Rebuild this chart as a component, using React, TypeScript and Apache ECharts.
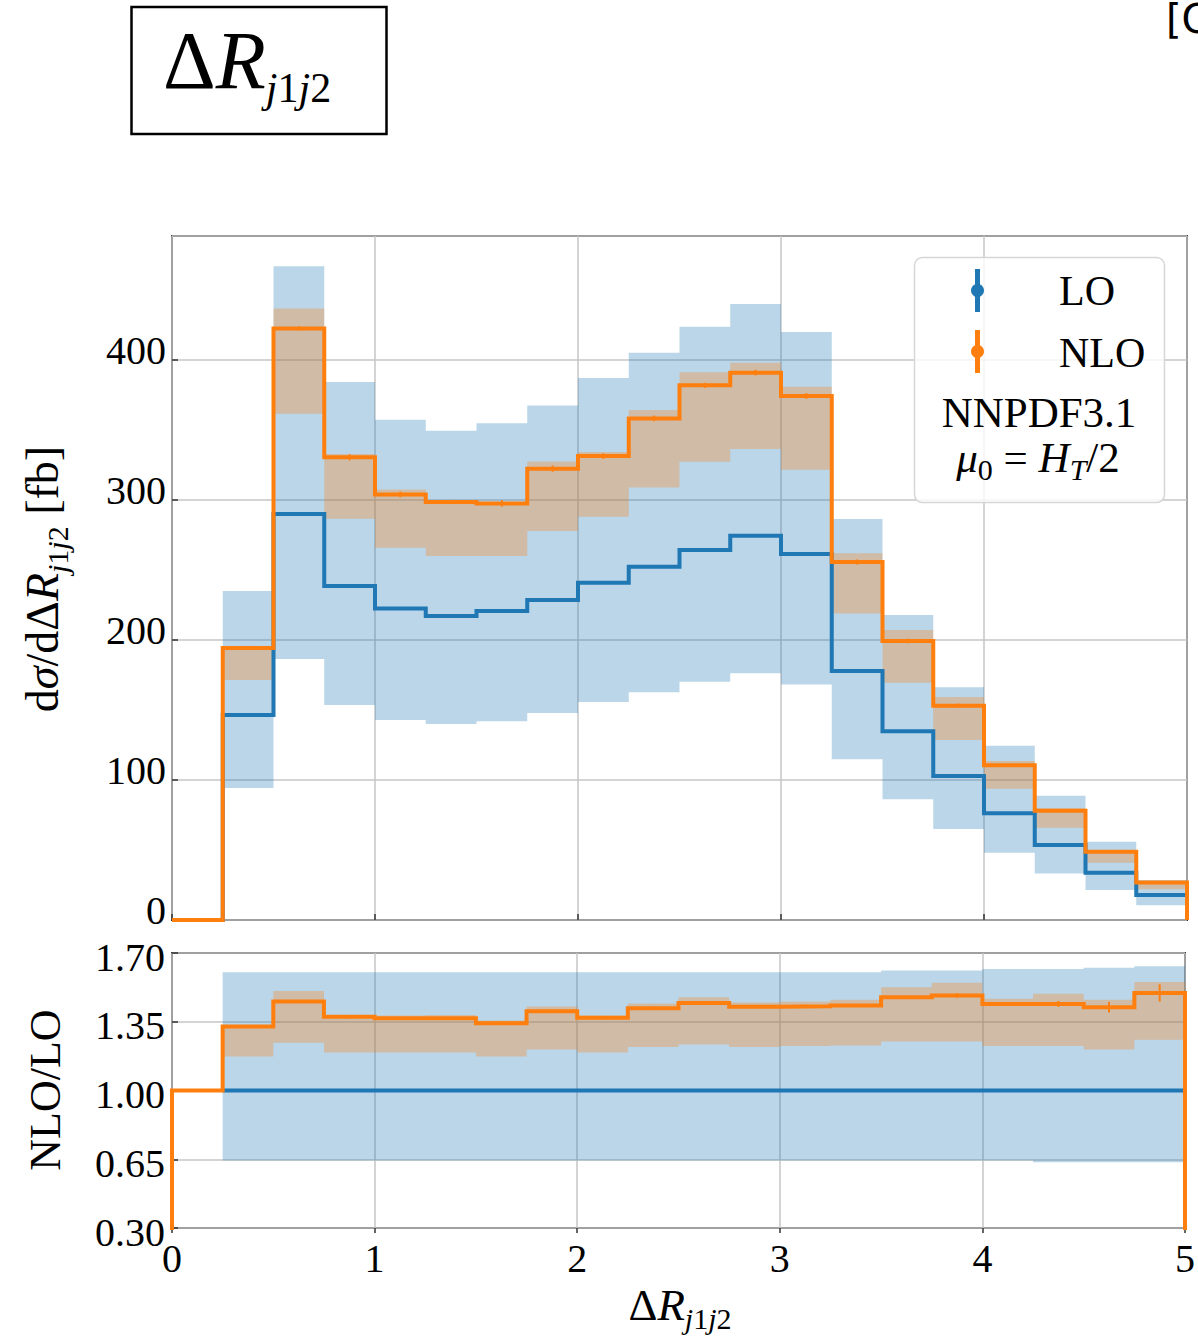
import React, { useEffect, useRef } from 'react';
import * as echarts from 'echarts';

// ---------- data ----------
const binEdges = [0, 0.25, 0.5, 0.75, 1, 1.25, 1.5, 1.75, 2, 2.25, 2.5, 2.75, 3, 3.25, 3.5, 3.75, 4, 4.25, 4.5, 4.75, 5];

const loCentral = [0, 146.4, 290.0, 238.6, 222.6, 217.1, 220.7, 228.6, 240.9, 252.4, 264.3, 274.5, 261.4, 177.9, 134.8, 102.9, 76.2, 53.6, 33.8, 17.9];
const loLow = [null, 94.3, 186.4, 153.6, 142.9, 140.0, 142.0, 147.9, 155.7, 162.6, 170.2, 176.2, 168.3, 114.8, 86.2, 65.0, 48.1, 33.3, 21.4, 10.5];
const loHigh = [null, 235.0, 467.0, 384.3, 357.4, 349.5, 354.8, 367.6, 387.1, 405.2, 423.8, 440.0, 420.0, 286.5, 217.9, 166.2, 124.5, 88.8, 55.9, 28.6];

const nloCentral = [0, 194.3, 422.6, 330.5, 304.0, 298.6, 297.6, 322.4, 331.4, 358.3, 381.9, 391.0, 374.3, 255.7, 199.3, 153.1, 110.5, 78.1, 48.8, 26.7];
const nloLow = [null, 171.4, 361.6, 286.7, 265.9, 260.0, 260.0, 277.9, 288.1, 309.0, 327.4, 336.4, 321.7, 219.0, 169.5, 128.6, 93.8, 65.9, 40.9, 21.9];
const nloHigh = [null, 195.5, 436.9, 332.9, 307.6, 299.3, 298.5, 327.6, 334.3, 364.3, 391.2, 398.1, 380.9, 261.9, 207.1, 159.3, 113.6, 79.8, 50.0, 27.4];
const nloErr = [0, 1.5, 1.5, 2.2, 2.0, 1.5, 2.3, 2.2, 2.0, 2.0, 1.8, 2.0, 2.0, 1.8, 1.6, 1.4, 1.0, 1.0, 1.0, 1.0];

const ratioLo = [null, 1, 1, 1, 1, 1, 1, 1, 1, 1, 1, 1, 1, 1, 1, 1, 1, 1, 1, 1];
const ratioLoLow = [null, 0.644, 0.644, 0.644, 0.644, 0.644, 0.644, 0.644, 0.644, 0.644, 0.644, 0.644, 0.644, 0.644, 0.644, 0.644, 0.644, 0.635, 0.635, 0.635];
const ratioLoHigh = [null, 1.602, 1.602, 1.602, 1.602, 1.602, 1.602, 1.602, 1.602, 1.602, 1.602, 1.602, 1.602, 1.602, 1.611, 1.611, 1.618, 1.618, 1.625, 1.633];

const ratioNlo = [1.0, 1.326, 1.453, 1.375, 1.368, 1.368, 1.343, 1.404, 1.370, 1.419, 1.445, 1.426, 1.429, 1.433, 1.475, 1.484, 1.441, 1.441, 1.424, 1.497];
const ratioNloLow = [null, 1.173, 1.243, 1.193, 1.193, 1.193, 1.173, 1.209, 1.193, 1.221, 1.234, 1.221, 1.227, 1.229, 1.249, 1.249, 1.227, 1.227, 1.209, 1.258];
const ratioNloHigh = [null, 1.330, 1.506, 1.382, 1.382, 1.384, 1.356, 1.428, 1.382, 1.443, 1.475, 1.448, 1.453, 1.462, 1.526, 1.548, 1.467, 1.492, 1.462, 1.553];
const ratioNloErr = [0, 0.005, 0.005, 0.008, 0.008, 0.006, 0.01, 0.008, 0.007, 0.008, 0.007, 0.007, 0.008, 0.008, 0.007, 0.012, 0.01, 0.015, 0.027, 0.044];

const xTicks = [0, 1, 2, 3, 4, 5];
const topYTicks = [0, 100, 200, 300, 400];
const ratioYTicks = [0.3, 0.65, 1.0, 1.35, 1.7];

// ---------- style ----------
const SERIF = '"Liberation Serif", "Times New Roman", serif';
const C_LO = '#1f77b4';
const C_NLO = '#ff7f0e';
const BAND_LO = 'rgba(31,119,180,0.3)';
const BAND_NLO = 'rgba(255,127,14,0.3)';
const GRID_C = '#c6c6c6';
const AX_C = '#333333';

function stepPoints(vals: (number | null)[], dropStart: boolean, dropEnd: boolean) {
  const pts: number[][] = [];
  let first = -1;
  let last = -1;
  vals.forEach((v, i) => {
    if (v === null || v === undefined) return;
    if (first < 0) first = i;
    last = i;
  });
  if (dropStart) pts.push([binEdges[first], 0]);
  for (let i = first; i <= last; i++) {
    const v = vals[i];
    if (v === null || v === undefined) continue;
    pts.push([binEdges[i], v], [binEdges[i + 1], v]);
  }
  if (dropEnd) pts.push([binEdges[last + 1], 0]);
  return pts;
}

function bandSeries(lo: (number | null)[], hi: (number | null)[], fill: string, gi: number) {
  const upper: number[][] = [];
  const lower: number[][] = [];
  for (let i = 0; i < lo.length; i++) {
    if (lo[i] === null || hi[i] === null) continue;
    upper.push([binEdges[i], hi[i] as number], [binEdges[i + 1], hi[i] as number]);
    lower.push([binEdges[i], lo[i] as number], [binEdges[i + 1], lo[i] as number]);
  }
  const poly = upper.concat(lower.reverse());
  return {
    type: 'custom',
    xAxisIndex: gi,
    yAxisIndex: gi,
    silent: true,
    data: [[0, 0]],
    renderItem: (_p: any, api: any) => ({
      type: 'polygon',
      shape: { points: poly.map((p) => api.coord(p)) },
      style: { fill, stroke: 'none' },
    }),
  };
}

function lineSeries(pts: number[][], color: string, gi: number) {
  return {
    type: 'line',
    xAxisIndex: gi,
    yAxisIndex: gi,
    data: pts,
    showSymbol: false,
    symbol: 'none',
    silent: true,
    clip: true,
    lineStyle: { color, width: 4, join: 'miter', cap: 'butt' },
  };
}

function errSeries(vals: (number | null)[], errs: number[], color: string, gi: number) {
  const rows: number[][] = [];
  vals.forEach((v, i) => {
    if (v === null || errs[i] <= 0) return;
    const c = (binEdges[i] + binEdges[i + 1]) / 2;
    rows.push([c, v - errs[i], v + errs[i]]);
  });
  return {
    type: 'custom',
    xAxisIndex: gi,
    yAxisIndex: gi,
    silent: true,
    encode: { x: 0, y: [1, 2] },
    data: rows,
    renderItem: (_p: any, api: any) => {
      const a = api.coord([api.value(0), api.value(1)]);
      const b = api.coord([api.value(0), api.value(2)]);
      return {
        type: 'line',
        shape: { x1: a[0], y1: a[1], x2: b[0], y2: b[1] },
        style: { stroke: color, lineWidth: 2 },
      };
    },
  };
}

function mathRich(main: number, sub: number, L: number, h: number) {
  return {
    r: { fontFamily: SERIF, fontSize: main, lineHeight: L, color: '#000', fontStyle: 'normal' },
    i: { fontFamily: SERIF, fontSize: main, lineHeight: L, color: '#000', fontStyle: 'italic' },
    s: { fontFamily: SERIF, fontSize: sub, lineHeight: h, color: '#000', fontStyle: 'italic', verticalAlign: 'bottom' },
    sn: { fontFamily: SERIF, fontSize: sub, lineHeight: h, color: '#000', fontStyle: 'normal', verticalAlign: 'bottom' },
  };
}

const GRID_L = 172;
const GRID_W = 1015;

function buildOption() {
  const axisTick = { show: true, inside: true, length: 6, lineStyle: { color: AX_C, width: 1.5 } };
  const splitLine = { show: true, lineStyle: { color: GRID_C, width: 1.5 } };
  const labelBase = { fontFamily: SERIF, fontSize: 40, color: '#000' };

  const legendZ = 100;

  return {
    animation: false,
    backgroundColor: '#ffffff',
    textStyle: { fontFamily: SERIF },
    grid: [
      { left: GRID_L, width: GRID_W, top: 236, height: 684, show: true, borderColor: AX_C, borderWidth: 2, containLabel: false },
      { left: GRID_L, width: GRID_W, top: 953, height: 275, show: true, borderColor: AX_C, borderWidth: 2, containLabel: false },
    ],
    xAxis: [
      {
        type: 'value', gridIndex: 0, min: 0, max: 5, interval: 1,
        axisLine: { show: false }, axisTick, axisLabel: { show: false }, splitLine,
      },
      {
        type: 'value', gridIndex: 1, min: 0, max: 5, interval: 1,
        axisLine: { show: false },
        axisTick: { show: true, inside: false, length: 5, lineStyle: { color: AX_C, width: 1.5 } },
        axisLabel: { ...labelBase, margin: 10, formatter: (v: number) => (xTicks.includes(v) ? String(v) : '') },
        splitLine,
      },
    ],
    yAxis: [
      {
        type: 'value', gridIndex: 0, min: 0, max: 488.6, interval: 100,
        axisLine: { show: false }, axisTick, splitLine,
        axisLabel: {
          ...labelBase, margin: 6, verticalAlign: 'bottom', lineHeight: 19, showMaxLabel: false,
          formatter: (v: number) => (topYTicks.includes(v) ? String(v) : ''),
        },
      },
      {
        type: 'value', gridIndex: 1, min: 0.3, max: 1.7,
        axisLine: { show: false },
        axisTick: { ...axisTick, customValues: ratioYTicks },
        splitLine,
        axisLabel: {
          ...labelBase, margin: 7, verticalAlign: 'top', lineHeight: 8, customValues: ratioYTicks,
          formatter: (v: number) => v.toFixed(2),
        },
      },
    ],
    series: [
      bandSeries(loLow, loHigh, BAND_LO, 0),
      bandSeries(nloLow, nloHigh, BAND_NLO, 0),
      lineSeries(stepPoints(loCentral, true, true), C_LO, 0),
      lineSeries(stepPoints(nloCentral, true, true), C_NLO, 0),
      errSeries(nloCentral, nloErr, C_NLO, 0),
      bandSeries(ratioLoLow, ratioLoHigh, BAND_LO, 1),
      bandSeries(ratioNloLow, ratioNloHigh, BAND_NLO, 1),
      lineSeries(stepPoints(ratioLo, false, false), C_LO, 1),
      lineSeries(stepPoints(ratioNlo, true, true), C_NLO, 1),
      errSeries(ratioNlo, ratioNloErr, C_NLO, 1),
    ],
    graphic: {
      elements: [
        // title box
        {
          type: 'rect', z: legendZ,
          shape: { x: 131.5, y: 7, width: 255, height: 127 },
          style: { fill: '#fff', stroke: '#000', lineWidth: 2.5 },
        },
        {
          type: 'text', z: legendZ + 1, x: 163, y: 60,
          style: {
            text: '{r|Δ}{i|R}{s|j}{sn|1}{s|j}{sn|2}',
            rich: mathRich(82, 42, 98, 10),
            align: 'left', verticalAlign: 'middle',
          },
        },
        // cut-off text at top right
        {
          type: 'text', z: legendZ, x: 1166, y: 19,
          style: { text: '[G', fontFamily: '"DejaVu Sans", sans-serif', fontSize: 40, fill: '#000', align: 'left', verticalAlign: 'middle' },
        },
        // legend box
        {
          type: 'rect', z: legendZ,
          shape: { x: 914.5, y: 257.5, width: 250, height: 245, r: 8 },
          style: { fill: 'rgba(255,255,255,0.8)', stroke: '#d6d6d6', lineWidth: 1.5 },
        },
        { type: 'line', z: legendZ + 1, shape: { x1: 977.5, y1: 269, x2: 977.5, y2: 312 }, style: { stroke: C_LO, lineWidth: 5 } },
        { type: 'circle', z: legendZ + 1, shape: { cx: 977.5, cy: 290.5, r: 6.5 }, style: { fill: C_LO } },
        { type: 'line', z: legendZ + 1, shape: { x1: 977.5, y1: 330, x2: 977.5, y2: 373 }, style: { stroke: C_NLO, lineWidth: 5 } },
        { type: 'circle', z: legendZ + 1, shape: { cx: 977.5, cy: 351.5, r: 6.5 }, style: { fill: C_NLO } },
        {
          type: 'text', z: legendZ + 1, x: 1059, y: 291,
          style: { text: 'LO', fontFamily: SERIF, fontSize: 42, fill: '#000', align: 'left', verticalAlign: 'middle' },
        },
        {
          type: 'text', z: legendZ + 1, x: 1059, y: 352.5,
          style: { text: 'NLO', fontFamily: SERIF, fontSize: 42, fill: '#000', align: 'left', verticalAlign: 'middle' },
        },
        {
          type: 'text', z: legendZ + 1, x: 1039, y: 412,
          style: { text: 'NNPDF3.1', fontFamily: SERIF, fontSize: 43, fill: '#000', align: 'center', verticalAlign: 'middle' },
        },
        {
          type: 'text', z: legendZ + 1, x: 1038, y: 457,
          style: {
            text: '{i|μ}{sn|0}{r| = }{i|H}{s|T}{r|/2}',
            rich: mathRich(43, 30, 55, 10),
            align: 'center', verticalAlign: 'middle',
          },
        },
        // axis titles
        {
          type: 'text', z: legendZ, x: 42, y: 579, rotation: Math.PI / 2,
          style: {
            text: '{r|d}{i|σ}{r|/d}{r|Δ}{i|R}{s|j}{sn|1}{s|j}{sn|2}{r| [fb]}',
            rich: mathRich(46, 30, 61, 10),
            align: 'center', verticalAlign: 'middle',
          },
        },
        {
          type: 'text', z: legendZ, x: 45, y: 1090, rotation: Math.PI / 2,
          style: { text: 'NLO/LO', fontFamily: SERIF, fontSize: 44, fill: '#000', align: 'center', verticalAlign: 'middle' },
        },
        {
          type: 'text', z: legendZ, x: 680, y: 1305,
          style: {
            text: '{r|Δ}{i|R}{s|j}{sn|1}{s|j}{sn|2}',
            rich: mathRich(45, 30, 56, 10),
            align: 'center', verticalAlign: 'middle',
          },
        },
      ],
    },
  };
}

export default function App() {
  const ref = useRef<HTMLDivElement>(null);
  useEffect(() => {
    if (!ref.current) return;
    const chart = echarts.init(ref.current, null, { renderer: 'svg' });
    chart.setOption(buildOption() as any);
    return () => chart.dispose();
  }, []);
  return (
    <div
      ref={ref}
      style={{ position: 'fixed', left: 0, top: 0, width: 1198, height: 1336, background: '#fff' }}
    />
  );
}
